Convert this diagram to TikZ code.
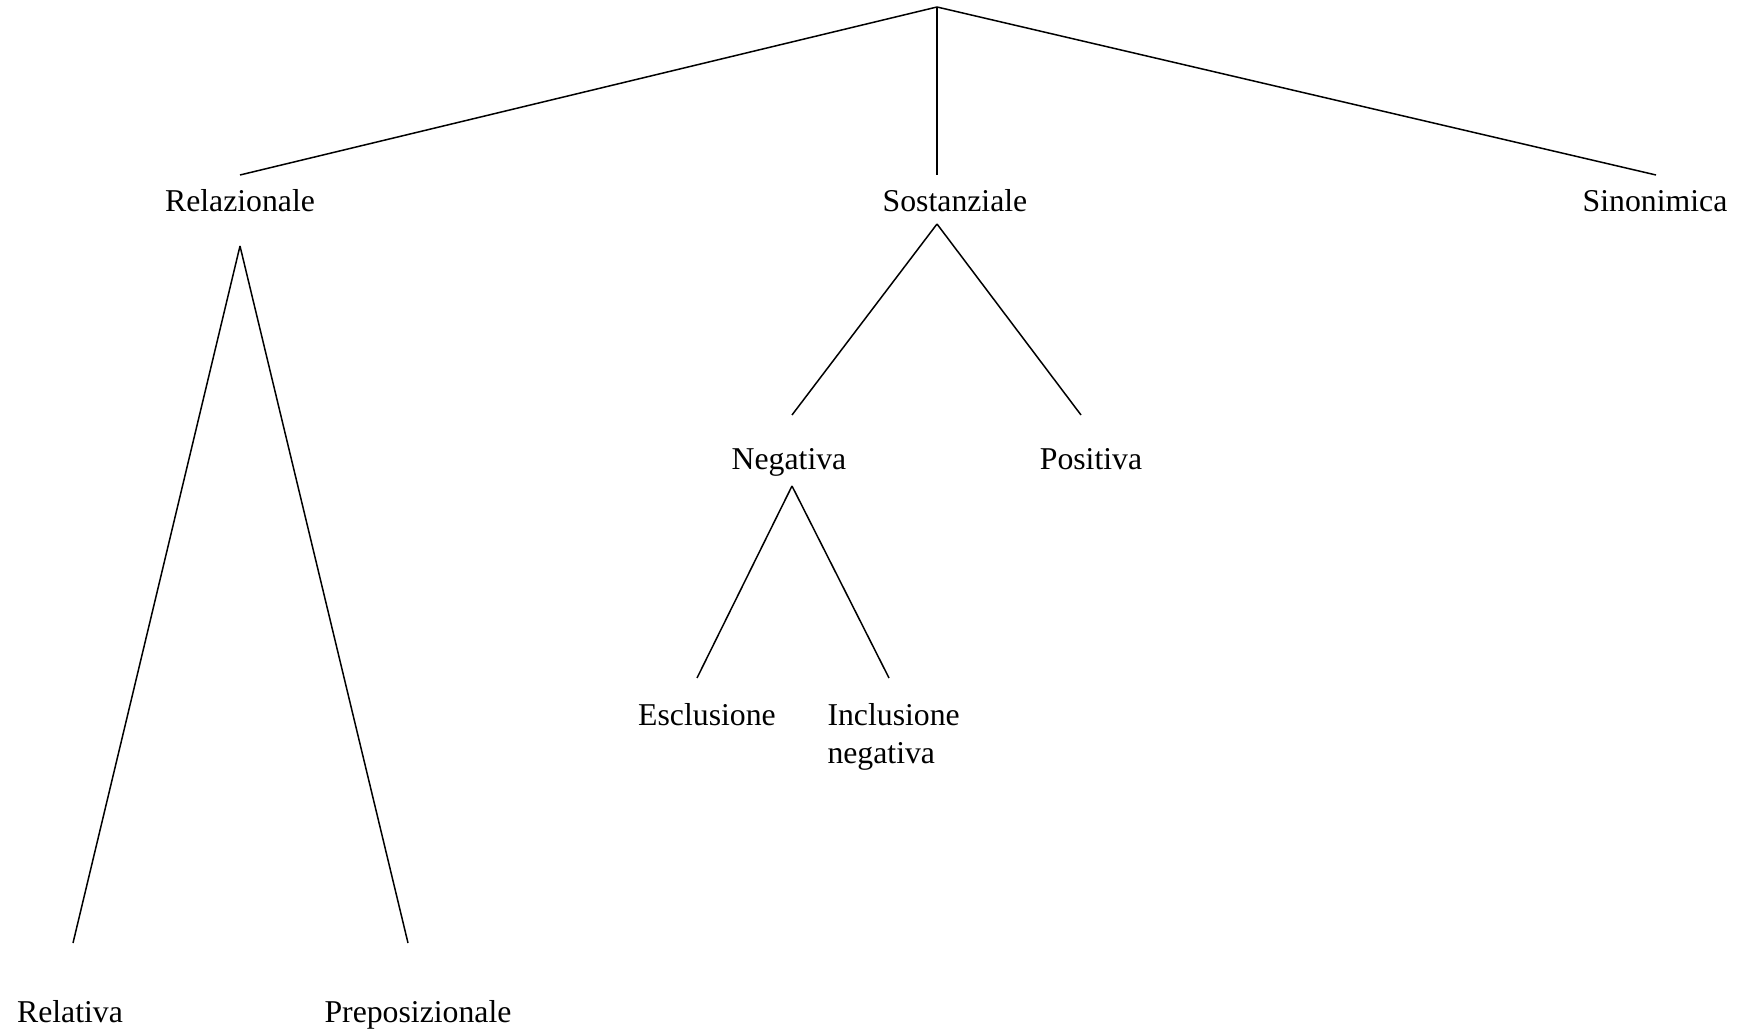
\documentclass[tikz,border=0pt]{standalone}
\usepackage{fontspec}
\setmainfont{Liberation Serif}
\usetikzlibrary{positioning}

\tikzset{
    term/.style={inner sep=0pt, anchor=base, font=\fontsize{12.7}{15.2}\selectfont},
    branch/.style={line width=0.6pt, line cap=butt}
}

\begin{document}
\begin{tikzpicture}[x=0.4pt, y=-0.4pt]
                \useasboundingbox (0, 0) rectangle (1745, 1031);
                % --------
                % Labels
                % --------
                \node[term] at (240, 212) (rel) {Relazionale};
                \node[term] at (955, 212) (sost) {Sostanziale};
                \node[term] at (1655, 212) (sin) {Sinonimica};
                
                \node[term] at (789, 470) (neg) {Negativa};
                \node[term] at (1091, 470) (pos) {Positiva};
                
                \node[term] at (707, 725) (esc) {Esclusione};
                \node[term, anchor=base west, align=left] at (827, 763) (inc) {Inclusione\\negativa};
                
                \node[term] at (70, 1022) (relv) {Relativa};
                \node[term] at (418, 1022) (prep) {Preposizionale};
                
                % Branch points
                \coordinate (root) at (937, 7);
                \coordinate (relT) at (240, 175);
                \coordinate (sostT) at (937, 175);
                \coordinate (sinT) at (1656, 175);
                \coordinate (relB) at (240, 246);
                \coordinate (sostB) at (937, 224);
                \coordinate (negT) at (792, 415);
                \coordinate (posT) at (1081, 415);
                \coordinate (negB) at (792, 486);
                \coordinate (escT) at (697, 678);
                \coordinate (incT) at (889, 678);
                \coordinate (relvT) at (73, 943);
                \coordinate (prepT) at (408, 943);
                
                % Draw line
                \draw[branch] (root) -- (relT);
                \draw[branch] (root) -- (sostT);
                \draw[branch] (root) -- (sinT);
                \draw[branch] (relB) -- (relvT);
                \draw[branch] (relB) -- (prepT);
                \draw[branch] (sostB) -- (negT);
                \draw[branch] (sostB) -- (posT);
                \draw[branch] (negB) -- (escT);
                \draw[branch] (negB) -- (incT);
            \end{tikzpicture}
\end{document}
